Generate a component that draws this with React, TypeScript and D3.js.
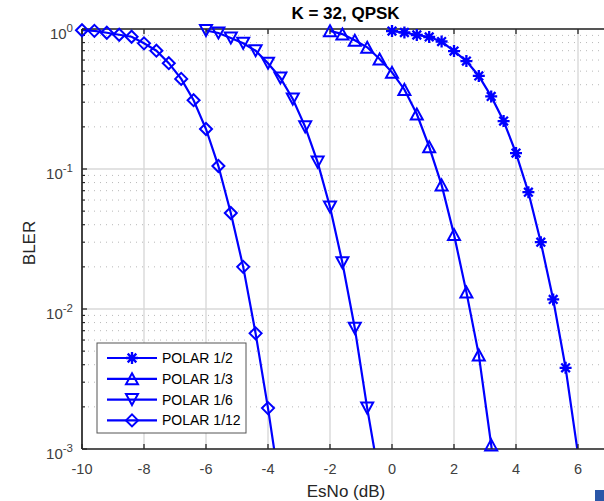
import React from "react";
import * as d3 from "d3";

const esnoR12 = [-10, -9.6, -9.2, -8.8, -8.4, -8, -7.6, -7.2, -6.8, -6.4, -6, -5.6, -5.2, -4.8, -4.4, -4, -3.6];
const blerR12 = [0.98, 0.97, 0.94, 0.91, 0.88, 0.79, 0.7, 0.57, 0.44, 0.31, 0.193, 0.105, 0.0485, 0.02, 0.0067, 0.00196, 0.0005];
const esnoR6 = [-6, -5.6, -5.2, -4.8, -4.4, -4, -3.6, -3.2, -2.8, -2.4, -2, -1.6, -1.2, -0.8, -0.4];
const blerR6 = [0.975, 0.936, 0.862, 0.79, 0.7, 0.57, 0.447, 0.316, 0.2, 0.112, 0.0535, 0.0214, 0.0073, 0.00196, 0.0006];
const esnoR3 = [-2, -1.6, -1.2, -0.8, -0.4, 0, 0.4, 0.8, 1.2, 1.6, 2, 2.4, 2.8, 3.2, 3.6];
const blerR3 = [0.97, 0.92, 0.83, 0.74, 0.61, 0.49, 0.37, 0.247, 0.144, 0.077, 0.034, 0.0132, 0.0047, 0.00107, 0.0002];
const esnoR2 = [0, 0.4, 0.8, 1.2, 1.6, 2, 2.4, 2.8, 3.2, 3.6, 4, 4.4, 4.8, 5.2, 5.6, 6];
const blerR2 = [0.967, 0.944, 0.906, 0.877, 0.814, 0.696, 0.59, 0.462, 0.33, 0.22, 0.13, 0.0683, 0.03, 0.0117, 0.0038, 0.00092];

const seriesNames = ["POLAR 1/2", "POLAR 1/3", "POLAR 1/6", "POLAR 1/12"];
const seriesMarkers = ["star", "triUp", "triDown", "diamond"];
const xTicks = [-10, -8, -6, -4, -2, 0, 2, 4, 6];
const yDecades = [0, -1, -2, -3];

const FONT = "'Liberation Sans', Arial, Helvetica, sans-serif";
const BLUE = "#0000ff";

function Marker({ type, x, y }: { type: string; x: number; y: number }) {
  const common = { fill: "none", stroke: BLUE, strokeWidth: 2 };
  if (type === "diamond") {
    const r = 6;
    return <path d={`M${x},${y - r}L${x + r},${y}L${x},${y + r}L${x - r},${y}Z`} {...common} />;
  }
  if (type === "triUp") {
    const w = 6, h = 5.5;
    return <path d={`M${x},${y - h}L${x + w},${y + h}L${x - w},${y + h}Z`} {...common} />;
  }
  if (type === "triDown") {
    const w = 6, h = 5.5;
    return <path d={`M${x},${y + h}L${x + w},${y - h}L${x - w},${y - h}Z`} {...common} />;
  }
  const r = 6, d = r * 0.72;
  return (
    <path
      d={`M${x - r},${y}L${x + r},${y}M${x},${y - r}L${x},${y + r}M${x - d},${y - d}L${x + d},${y + d}M${x - d},${y + d}L${x + d},${y - d}`}
      {...common}
      strokeWidth={2.3}
    />
  );
}

export default function App() {
  const left = 82, right = 609, top = 29, bottom = 449;
  const x = d3.scaleLinear().domain([-10, 7]).range([left, right]);
  const y = d3.scaleLog().domain([1e-3, 1]).range([bottom, top]);

  const series = [
    { xs: esnoR2, ys: blerR2 },
    { xs: esnoR3, ys: blerR3 },
    { xs: esnoR6, ys: blerR6 },
    { xs: esnoR12, ys: blerR12 },
  ];

  const line = d3
    .line<[number, number]>()
    .x((d) => x(d[0]))
    .y((d) => y(d[1]));

  const minorVals: number[] = [];
  for (let e = -3; e < 0; e++) {
    for (let m = 2; m <= 9; m++) minorVals.push(m * Math.pow(10, e));
  }

  return (
    <svg
      width={604}
      height={501}
      style={{ position: "absolute", left: 0, top: 0, background: "#fff" }}
      fontFamily={FONT}
    >
      <defs>
        <clipPath id="plotclip">
          <rect x={left} y={top} width={right - left} height={bottom - top} />
        </clipPath>
      </defs>
      <rect x={0} y={0} width={604} height={501} fill="#fff" />
      {minorVals.map((v, i) => (
        <line
          key={"mg" + i}
          x1={left}
          x2={right}
          y1={y(v)}
          y2={y(v)}
          stroke="#b8b8b8"
          strokeWidth={1}
          strokeDasharray="1 5"
        />
      ))}
      {yDecades.map((e) => (
        <line key={"yg" + e} x1={left} x2={right} y1={y(Math.pow(10, e))} y2={y(Math.pow(10, e))} stroke="#d9d9d9" strokeWidth={1.4} />
      ))}
      {xTicks.map((t) => (
        <line key={"xg" + t} x1={x(t)} x2={x(t)} y1={top} y2={bottom} stroke="#d9d9d9" strokeWidth={1.4} />
      ))}
      <g clipPath="url(#plotclip)">
        {series.map((s, i) => (
          <path
            key={"l" + i}
            d={line(s.xs.map((v, j) => [v, s.ys[j]] as [number, number])) || ""}
            fill="none"
            stroke={BLUE}
            strokeWidth={2.2}
          />
        ))}
      </g>
      <line x1={left} x2={right} y1={top} y2={top} stroke="#262626" strokeWidth={1.7} />
      <line x1={left} x2={right} y1={bottom} y2={bottom} stroke="#262626" strokeWidth={1.7} />
      <line x1={left} x2={left} y1={top} y2={bottom} stroke="#262626" strokeWidth={1.7} />
      {xTicks.map((t) => (
        <g key={"xt" + t}>
          <line x1={x(t)} x2={x(t)} y1={bottom} y2={bottom - 5} stroke="#262626" strokeWidth={1.3} />
          <line x1={x(t)} x2={x(t)} y1={top} y2={top + 5} stroke="#262626" strokeWidth={1.3} />
          <text x={x(t)} y={474} textAnchor="middle" fontSize={14.5} fill="#404040">
            {t < 0 ? "-" + Math.abs(t) : String(t)}
          </text>
        </g>
      ))}
      {yDecades.map((e) => (
        <g key={"yt" + e}>
          <line x1={left} x2={left + 5} y1={y(Math.pow(10, e))} y2={y(Math.pow(10, e))} stroke="#262626" strokeWidth={1.3} />
          <text x={73} y={y(Math.pow(10, e)) + 10} textAnchor="end" fontSize={15} fill="#404040">
            10
            <tspan dy={-7.5} fontSize={11.5}>
              {e === 0 ? "0" : "-" + Math.abs(e)}
            </tspan>
          </text>
        </g>
      ))}
      {minorVals.map((v, i) => (
        <line key={"ymt" + i} x1={left} x2={left + 3} y1={y(v)} y2={y(v)} stroke="#262626" strokeWidth={1.2} />
      ))}
      {series.map((s, i) => (
        <g key={"m" + i}>
          {s.xs.map((v, j) =>
            s.ys[j] >= 1e-3 && v <= 7 ? (
              <Marker key={j} type={seriesMarkers[i]} x={x(v)} y={y(s.ys[j])} />
            ) : null
          )}
        </g>
      ))}
      <text x={345.5} y={19} textAnchor="middle" fontSize={17} fontWeight="bold" fill="#000">
        K = 32, QPSK
      </text>
      <text x={346} y={497} textAnchor="middle" fontSize={17} fill="#262626">
        EsNo (dB)
      </text>
      <text transform="translate(35,243) rotate(-90)" textAnchor="middle" fontSize={17} fill="#262626">
        BLER
      </text>
      <rect x={97} y={343} width={149} height={90} fill="#fff" stroke="#555" strokeWidth={1} />
      {seriesNames.map((n, i) => {
        const ry = 358 + i * 20.8;
        return (
          <g key={"lg" + i}>
            <line x1={107} x2={157} y1={ry} y2={ry} stroke={BLUE} strokeWidth={2.2} />
            <Marker type={seriesMarkers[i]} x={132} y={ry} />
            <text x={162} y={ry + 5} fontSize={14} fill="#000">
              {n}
            </text>
          </g>
        );
      })}
      <rect x={595} y={490} width={9} height={11} fill="#2a56a8" />
    </svg>
  );
}
